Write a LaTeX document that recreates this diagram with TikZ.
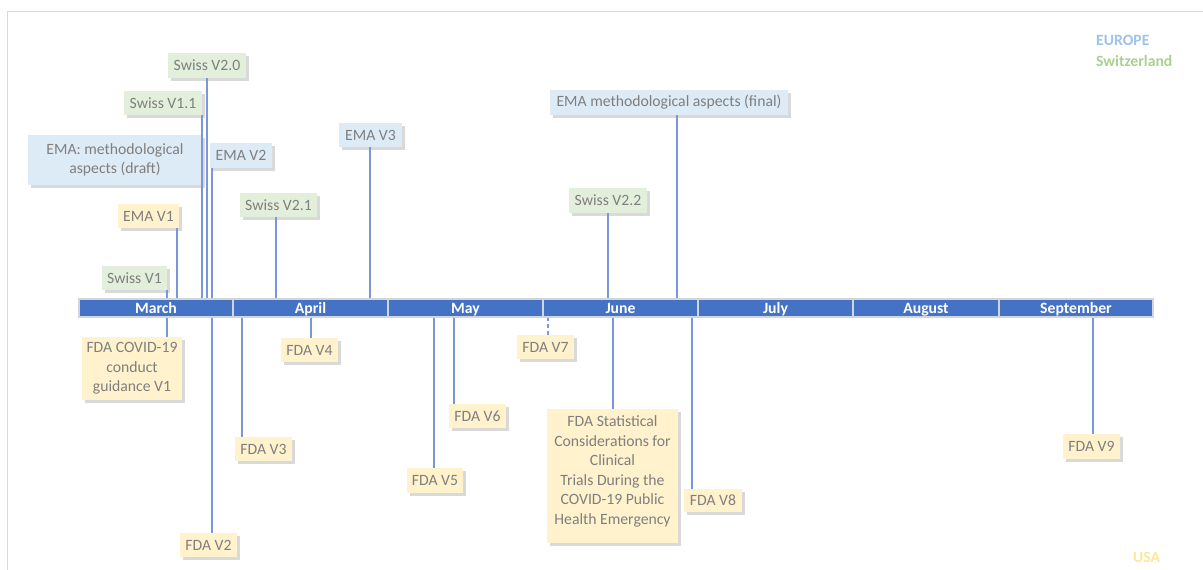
\documentclass[tikz,border=0pt]{standalone}
\usepackage{fontspec}
\setmainfont{Carlito}
\usetikzlibrary{shadows}
\definecolor{barblue}{HTML}{4472C4}
\definecolor{cellline}{HTML}{D0D5DE}
\definecolor{gfill}{HTML}{E2EFDA}
\definecolor{bfill}{HTML}{DDEBF7}
\definecolor{yfill}{HTML}{FFF2CC}
\definecolor{btext}{HTML}{7F7F7F}
\definecolor{conncol}{HTML}{7A97DA}
\definecolor{eurocol}{HTML}{9DC3E6}
\definecolor{swisscol}{HTML}{A9D18E}
\definecolor{usacol}{HTML}{FFE699}
\definecolor{framecol}{HTML}{D9D9D9}
\begin{document}
\begin{tikzpicture}[x=1pt,y=-1pt,
  box/.style={rectangle, inner sep=0pt, align=center, text=btext,
    font=\fontsize{15.7}{19.5}\selectfont,
    drop shadow={shadow xshift=2.5pt, shadow yshift=-2.5pt, opacity=0.3}},
  gbox/.style={box, fill=gfill},
  bbox/.style={box, fill=bfill},
  ybox/.style={box, fill=yfill},
  month/.style={rectangle, fill=barblue, draw=cellline, line width=1.5pt,
    inner sep=0pt, minimum height=18pt, text=white, text height=12.8pt, text depth=1.2pt,
    font=\bfseries\fontsize{15.7}{18}\selectfont},
  conn/.style={draw=conncol, line width=1.1pt},
  legend/.style={anchor=west, inner sep=0pt, font=\bfseries\fontsize{15.7}{18}\selectfont},
]
\useasboundingbox (0,0) rectangle (1203,570);
% frame
\draw[framecol, line width=1pt] (7,570) -- (7,11) -- (1203,11);

% connector end points on the bar
\coordinate (a1) at (207,299);
\coordinate (a2) at (202,299);
\coordinate (a3) at (212,299);
\coordinate (a4) at (177,299);
\coordinate (a5) at (167,299);
\coordinate (a6) at (276,299);
\coordinate (a7) at (370,299);
\coordinate (a8) at (677,299);
\coordinate (a9) at (608,299);
\coordinate (b1) at (167,317);
\coordinate (b2) at (212,317);
\coordinate (b3) at (242,317);
\coordinate (b4) at (311,317);
\coordinate (b5) at (434,317);
\coordinate (b6) at (454,317);
\coordinate (b7) at (548,317);
\coordinate (b8) at (613,317);
\coordinate (b9) at (692,317);
\coordinate (b10) at (1093,317);

% boxes above
\node[gbox, minimum width=78pt, minimum height=25pt] (sw20) at (207,65.5) {Swiss V2.0};
\node[gbox, minimum width=78pt, minimum height=24pt] (sw11) at (163,103) {Swiss V1.1};
\node[bbox, minimum width=174pt, minimum height=50pt] (emad) at (115,160) {EMA: methodological\\aspects (draft)};
\node[bbox, minimum width=62pt, minimum height=25pt] (ema2) at (241,155.5) {EMA V2};
\node[ybox, minimum width=61pt, minimum height=24pt] (ema1) at (148.5,216) {EMA V1};
\node[gbox, minimum width=65pt, minimum height=24pt] (sw1) at (134.5,278) {Swiss V1};
\node[gbox, minimum width=77pt, minimum height=24pt] (sw21) at (278.5,205) {Swiss V2.1};
\node[bbox, minimum width=63pt, minimum height=24pt] (ema3) at (370.5,135) {EMA V3};
\node[bbox, minimum width=238pt, minimum height=25pt] (emaf) at (669,102.5) {EMA methodological aspects (final)};
\node[gbox, minimum width=78pt, minimum height=25pt] (sw22) at (608,200.5) {Swiss V2.2};

% boxes below
\node[ybox, minimum width=100pt, minimum height=63pt] (fda1) at (132,368.5) {FDA COVID-19\\conduct\\guidance V1};
\node[ybox, minimum width=57pt, minimum height=24pt] (fda2) at (208.5,545) {FDA V2};
\node[ybox, minimum width=57pt, minimum height=24pt] (fda3) at (263.5,449) {FDA V3};
\node[ybox, minimum width=57pt, minimum height=24pt] (fda4) at (309.5,350) {FDA V4};
\node[ybox, minimum width=56pt, minimum height=25pt] (fda5) at (435,480.5) {FDA V5};
\node[ybox, minimum width=57pt, minimum height=24pt] (fda6) at (477.5,416) {FDA V6};
\node[ybox, minimum width=57pt, minimum height=24pt] (fda7) at (545.5,347) {FDA V7};
\node[ybox, minimum width=131pt, minimum height=134pt] (fdas) at (612.5,476) {FDA Statistical\\Considerations for\\Clinical\\Trials During the\\COVID-19 Public\\Health Emergency\\[-8pt]\mbox{}};
\node[ybox, minimum width=58pt, minimum height=23pt] (fda8) at (713,500.5) {FDA V8};
\node[ybox, minimum width=57pt, minimum height=25pt] (fda9) at (1091.5,446.5) {FDA V9};

% connectors
\draw[conn] (a1 |- sw20.south) -- (a1);
\draw[conn] (a2 |- sw11.south) -- (a2);
\draw[conn] (a3 |- ema2.south) -- (a3);
\draw[conn] (a4 |- ema1.south) -- (a4);
\draw[conn] (a5 |- sw1.south) -- (a5);
\draw[conn] (a6 |- sw21.south) -- (a6);
\draw[conn] (a7 |- ema3.south) -- (a7);
\draw[conn] (a8 |- emaf.south) -- (a8);
\draw[conn] (a9 |- sw22.south) -- (a9);
\draw[conn] (b1) -- (b1 |- fda1.north);
\draw[conn] (b2) -- (b2 |- fda2.north);
\draw[conn] (b3) -- (b3 |- fda3.north);
\draw[conn] (b4) -- (b4 |- fda4.north);
\draw[conn] (b5) -- (b5 |- fda5.north);
\draw[conn] (b6) -- (b6 |- fda6.north);
\draw[conn, dash pattern=on 4pt off 3pt] (b7) -- (b7 |- fda7.north);
\draw[conn] (b8) -- (b8 |- fdas.north);
\draw[conn] (b9) -- (b9 |- fda8.north);
\draw[conn] (b10) -- (b10 |- fda9.north);

% timeline bar
\node[month, minimum width=154pt] (m1) at (156,308) {March};
\node[month, minimum width=155pt] (m2) at (310.5,308) {April};
\node[month, minimum width=155pt] (m3) at (465.5,308) {May};
\node[month, minimum width=155pt] (m4) at (620.5,308) {June};
\node[month, minimum width=155pt] (m5) at (775.5,308) {July};
\node[month, minimum width=146pt] (m6) at (926,308) {August};
\node[month, minimum width=154pt] (m7) at (1076,308) {September};

% legend
\node[legend, text=eurocol] (leu) at (1096,40) {EUROPE};
\node[legend, text=swisscol] (lsw) at (1096,61) {Switzerland};
\node[legend, text=usacol] (lusa) at (1133,557) {USA};
\end{tikzpicture}
\end{document}
